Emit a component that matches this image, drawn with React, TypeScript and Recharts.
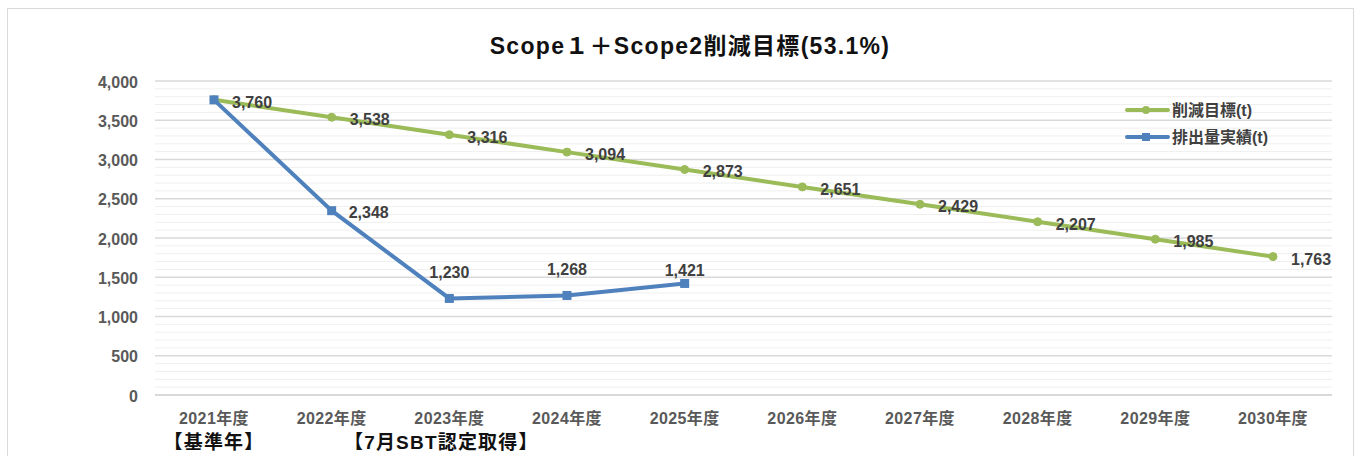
import React from "react";
import { LineChart, Line, XAxis, YAxis, ReferenceLine } from "recharts";

const years = [
  "2021年度",
  "2022年度",
  "2023年度",
  "2024年度",
  "2025年度",
  "2026年度",
  "2027年度",
  "2028年度",
  "2029年度",
  "2030年度",
];
const notes = ["【基準年】", "", "【7月SBT認定取得】", "", "", "", "", "", "", ""];
const target = [3760, 3538, 3316, 3094, 2873, 2651, 2429, 2207, 1985, 1763];
const actual = [3760, 2348, 1230, 1268, 1421, null, null, null, null, null];
// where the label of each actual point sits
const actualLabelPos = ["none", "right", "top", "top", "near", "none", "none", "none", "none", "none"];
const yTicks = [0, 500, 1000, 1500, 2000, 2500, 3000, 3500, 4000];

const GREEN = "#9BBB59";
const BLUE = "#4F81BD";
const FONT = '"Liberation Sans", "Noto Sans CJK JP", sans-serif';

const data = years.map((y, i) => ({ year: y, target: target[i], actual: actual[i] }));

const minorLines: number[] = [];
for (let v = 100; v < 4000; v += 100) if (v % 500 !== 0) minorLines.push(v);

function fmt(v: number) {
  return v.toLocaleString("en-US");
}

function YearTick({ x, y, payload }: any) {
  const i = payload.index;
  return (
    <g>
      <text
        x={x}
        y={y + 21}
        textAnchor="middle"
        fontFamily={FONT}
        fontSize={16}
        fontWeight="bold"
        letterSpacing={0.4}
        fill="#595959"
      >
        {payload.value}
      </text>
      {notes[i] && (
        <text
          x={x - (i === 2 ? 8 : 0)}
          y={y + 46}
          textAnchor="middle"
          fontFamily={FONT}
          fontSize={19}
          fontWeight="bold"
          letterSpacing={1.2}
          fill="#111"
        >
          {notes[i]}
        </text>
      )}
    </g>
  );
}

function TargetLabel({ x, y, value }: any) {
  return (
    <text x={x + 18} y={y + 8} fontFamily={FONT} fontSize={16} fontWeight="bold" fill="#404040">
      {fmt(value)}
    </text>
  );
}

function ActualLabel({ x, y, value, index }: any) {
  const pos = actualLabelPos[index];
  if (value == null || pos === "none") return null;
  if (pos === "right")
    return (
      <text x={x + 17} y={y + 7} fontFamily={FONT} fontSize={16} fontWeight="bold" fill="#404040">
        {fmt(value)}
      </text>
    );
  return (
    <text
      x={x}
      y={pos === "near" ? y - 7 : y - 20}
      textAnchor="middle"
      fontFamily={FONT}
      fontSize={16}
      fontWeight="bold"
      fill="#404040"
    >
      {fmt(value)}
    </text>
  );
}

function SquareDot({ cx, cy, value }: any) {
  if (value == null || cx == null) return null;
  return <rect x={cx - 4.5} y={cy - 4.5} width={9} height={9} fill={BLUE} />;
}

function LegendBox() {
  const rows = [
    { name: "削減目標(t)", color: GREEN, square: false },
    { name: "排出量実績(t)", color: BLUE, square: true },
  ];
  return (
    <svg width={180} height={50} style={{ position: "absolute", left: 1120, top: 100 }}>
      {rows.map((r, i) => {
        const cy = 10 + i * 27;
        return (
          <g key={r.name}>
            <line x1={7} x2={48} y1={cy} y2={cy} stroke={r.color} strokeWidth={4} strokeLinecap="round" />
            {r.square ? (
              <rect x={22} y={cy - 4} width={8} height={8} fill={r.color} />
            ) : (
              <circle cx={26} cy={cy} r={4} fill={r.color} />
            )}
            <text x={52} y={cy + 6} fontFamily={FONT} fontSize={16} fontWeight="bold" fill="#404040">
              {r.name}
            </text>
          </g>
        );
      })}
    </svg>
  );
}

export default function App() {
  return (
    <div style={{ position: "absolute", left: 0, top: 0, width: 1361, height: 456, background: "#fff", overflow: "hidden" }}>
      <div
        style={{
          position: "absolute",
          left: 7,
          top: 8,
          width: 1347,
          height: 460,
          border: "1px solid #d9d9d9",
          boxSizing: "border-box",
        }}
      />
      <div
        style={{
          position: "absolute",
          left: 0,
          width: 1380,
          top: 32,
          textAlign: "center",
          fontFamily: FONT,
          fontWeight: "bold",
          fontSize: 23,
          letterSpacing: 1.3,
          lineHeight: "28px",
          color: "#111",
        }}
      >
        Scope１＋Scope2削減目標(53.1%)
      </div>
      <div style={{ position: "absolute", left: 0, top: 0 }}>
        <LineChart width={1361} height={456} data={data} margin={{ top: 81, right: 29, left: 0, bottom: 0 }}>
          {minorLines.map((v) => (
            <ReferenceLine key={v} y={v} stroke="#efefef" strokeWidth={1} />
          ))}
          {yTicks.map((v) => (
            <ReferenceLine key={"m" + v} y={v} stroke="#d9d9d9" strokeWidth={v === 0 ? 2 : 1.5} />
          ))}
          <XAxis
            dataKey="year"
            height={61}
            axisLine={false}
            tickLine={false}
            interval={0}
            padding={{ left: 59, right: 59 }}
            tick={<YearTick />}
          />
          <YAxis
            width={155}
            domain={[0, 4000]}
            ticks={yTicks}
            axisLine={false}
            tickLine={false}
            tickSize={0}
            tickMargin={17}
            tickFormatter={fmt}
            tick={{ fontFamily: FONT, fontSize: 16, fontWeight: "bold", fill: "#595959", dy: 1 }}
          />
          <Line
            type="linear"
            dataKey="target"
            name="削減目標(t)"
            stroke={GREEN}
            strokeWidth={4}
            dot={{ r: 4, fill: GREEN, stroke: GREEN, strokeWidth: 1 }}
            activeDot={false}
            label={<TargetLabel />}
            isAnimationActive={false}
          />
          <Line
            type="linear"
            dataKey="actual"
            name="排出量実績(t)"
            stroke={BLUE}
            strokeWidth={4}
            dot={<SquareDot />}
            activeDot={false}
            label={<ActualLabel />}
            isAnimationActive={false}
          />
        </LineChart>
      </div>
      <LegendBox />
    </div>
  );
}
